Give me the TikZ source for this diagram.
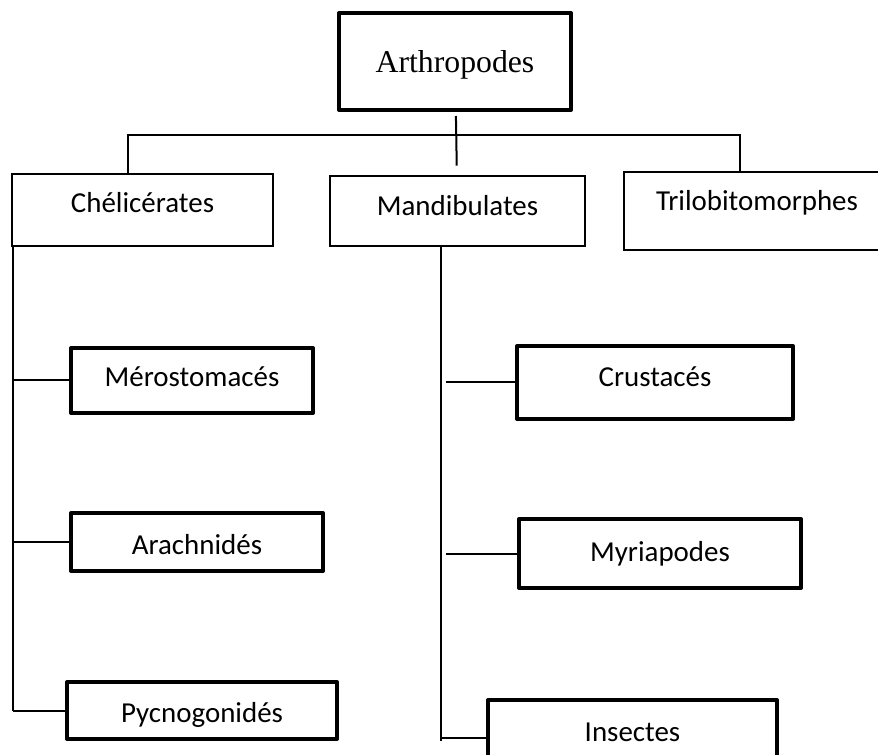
\documentclass[tikz,border=0pt]{standalone}
\usepackage{fontspec}
\setmainfont{Liberation Serif}
\newfontfamily\calibri{Carlito}
\usepackage{tikz}
\usetikzlibrary{positioning, calc}

\begin{document}
\begin{tikzpicture}[x=0.75pt, y=-0.75pt,
  box/.style={draw, line width=1.5pt, inner sep=0pt, font=\calibri\fontsize{21.7}{26}\selectfont},
  thickbox/.style={box, line width=3pt, line join=round},
  dims/.style n args={3}{minimum width=#1, text height=#2, text depth=#3},
  link/.style={line width=1.5pt}]
  \useasboundingbox (0,0) rectangle (878,755);

  % Root
  \node[thickbox, dims={174pt}{45pt}{27.75pt}, font=\fontsize{23.8}{28}\selectfont] (arth) at (455,61.5) {Arthropodes};

  % Three groups
  \node[box, dims={195.75pt}{29.25pt}{24.75pt}] (chel) at (142.5,210) {Chélicérates};
  \node[box, dims={191.25pt}{30pt}{22.5pt}] (mand) at (457.5,211) {Mandibulates};
  \node[box, dims={199.5pt}{29.25pt}{29.25pt}] (trilo) at (757,211) {Trilobitomorphes};

  % Chelicerates branch
  \node[thickbox, dims={181.5pt}{29.25pt}{19.5pt}] (mero) at (192,380.5) {Mérostomacés};
  \node[thickbox, dims={189pt}{30.75pt}{12.75pt}] (arach) at (197,542) {Arachnidés};
  \node[thickbox, dims={202.5pt}{30pt}{12.75pt}] (pycno) at (202,710.5) {Pycnogonidés};

  % Mandibulates branch
  \node[thickbox, dims={207pt}{30.75pt}{24pt}] (crust) at (655,382.5) {Crustacés};
  \node[thickbox, dims={211.5pt}{31.5pt}{20.25pt}] (myria) at (660,553.5) {Myriapodes};
  \node[thickbox, dims={216.75pt}{30.75pt}{21.75pt}] (insect) at (632.5,735) {Insectes};

  % Top bar
  \coordinate (barl) at (128,135);
  \coordinate (barr) at (740,135);
  \draw[link, shorten <=3pt, shorten >=7pt] (arth) -- (mand);
  \draw[link] (chel.north -| barl) -- (barl) -- (barr) -- (trilo.north -| barr);

  % Trunks
  \coordinate (ctop) at (13,246);
  \coordinate (mtop) at (441,246);
  \draw[link] (ctop) -- (ctop |- pycno.west);
  \foreach \n in {mero, arach, pycno}
    \draw[link] (ctop |- \n.west) -- (\n.west);
  \draw[link] (mtop) -- ($(mtop |- insect.west)+(0,6)$);
  \foreach \n in {crust, myria}
    \draw[link, shorten <=4pt] (mtop |- \n.west) -- (\n.west);
  \draw[link] ($(mtop |- insect.west)+(0,3)$) -- ($(insect.west)+(0,3)$);
\end{tikzpicture}
\end{document}
